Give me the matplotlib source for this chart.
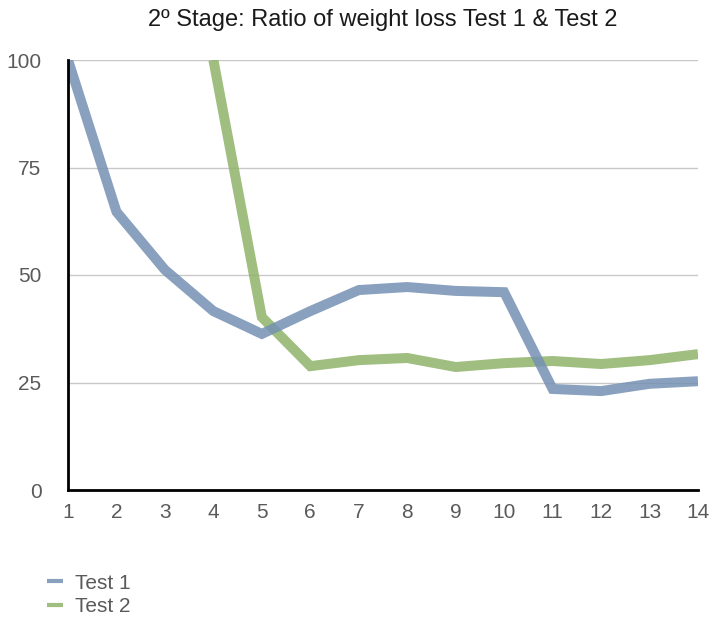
import matplotlib
matplotlib.use("Agg")
import matplotlib.pyplot as plt

x_days = list(range(1, 15))
test1 = [100, 64.7, 51.2, 41.6, 36.3, 41.6, 46.5, 47.2, 46.3, 46.0, 23.5, 23.0, 24.7, 25.3]
x_test2 = list(range(4, 15))
test2 = [100, 40.2, 28.8, 30.2, 30.7, 28.6, 29.5, 30.0, 29.3, 30.2, 31.6]
y_ticks = [0, 25, 50, 75, 100]
title = "2º Stage: Ratio of weight loss Test 1 & Test 2"

plt.rcParams['font.family'] = ['Liberation Sans', 'DejaVu Sans']

fig = plt.figure(figsize=(7.12, 6.22), dpi=100)
ax = fig.add_axes([68/712, 132/622, 630/712, 430/622])

for y in y_ticks[1:]:
    ax.axhline(y, color='#c8c8c8', lw=1.0, zorder=1)

ax.plot(x_test2, test2, color='#8fb36a', lw=7.2, alpha=0.85,
        solid_joinstyle='miter', solid_capstyle='butt', label='Test 2', zorder=3)
ax.plot(x_days, test1, color='#7591b3', lw=7.2, alpha=0.85,
        solid_joinstyle='miter', solid_capstyle='butt', label='Test 1', zorder=4)

ax.set_xlim(1, 14)
ax.set_ylim(0, 100)
ax.set_xticks(x_days)
ax.set_yticks(y_ticks)
ax.tick_params(axis='both', length=0, labelsize=15, labelcolor='#5a5a5a')
ax.tick_params(axis='x', pad=9)
ax.tick_params(axis='y', pad=19)
for s in ['top', 'right']:
    ax.spines[s].set_visible(False)
for s in ['left', 'bottom']:
    ax.spines[s].set_linewidth(2)
    ax.spines[s].set_color('black')
    ax.spines[s].set_zorder(5)

fig.text(383/712, 1 - 20/622, title, ha='center', va='center', fontsize=17, color='#1a1a1a')

h, l = ax.get_legend_handles_labels()
leg = fig.legend([h[1], h[0]], [l[1], l[0]], loc='upper left',
                 bbox_to_anchor=(30/712, 1 - 557/622), frameon=False,
                 fontsize=15, handlelength=0.8, handletextpad=0.55,
                 labelspacing=0.2, labelcolor='#5a5a5a', borderpad=0.3)
for line in leg.get_lines():
    line.set_linewidth(3)

fig.savefig('out.png', dpi=100)
